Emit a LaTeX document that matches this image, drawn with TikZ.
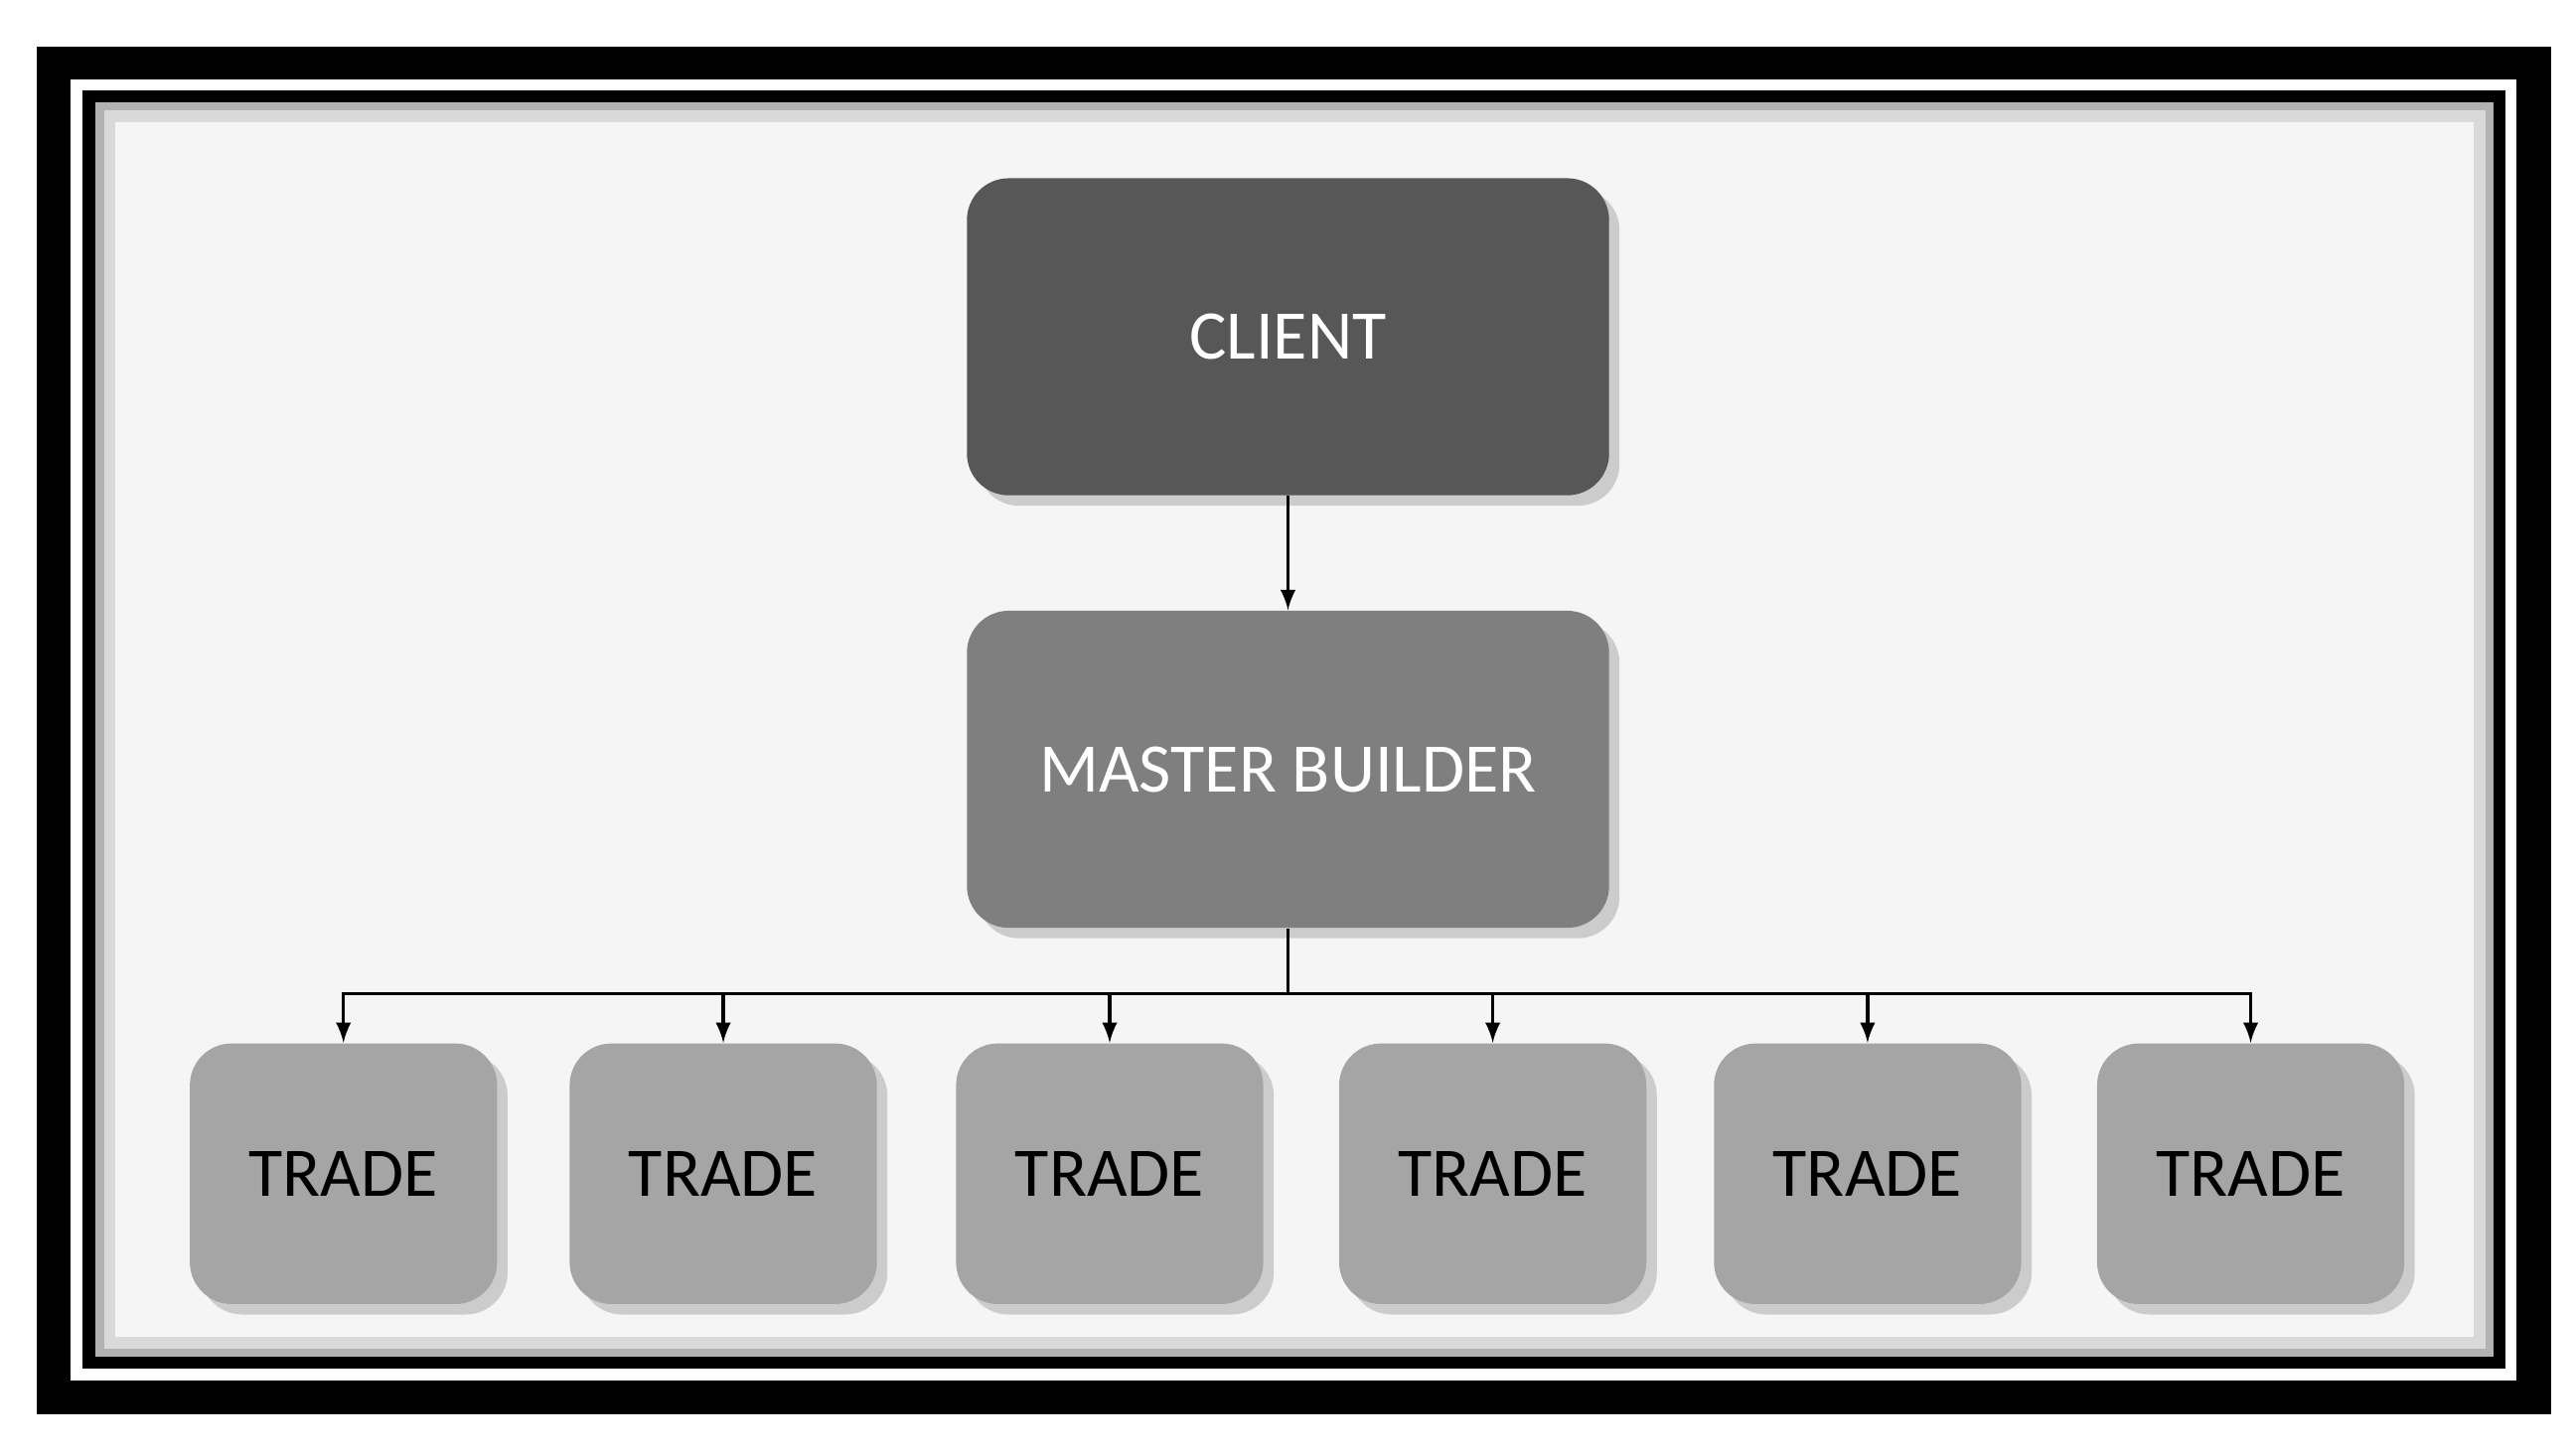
\documentclass[tikz,border=0pt]{standalone}
\usepackage{fontspec}
\setmainfont{Carlito}
\usetikzlibrary{shadows}
\definecolor{clientgray}{HTML}{575757}
\definecolor{mastergray}{HTML}{7F7F7F}
\definecolor{tradegray}{HTML}{A5A5A5}
\tikzset{
  box/.style={draw=none,rounded corners=12pt,inner sep=0pt,
    drop shadow={shadow xshift=3pt,shadow yshift=-3pt,opacity=0.35},
    font=\fontsize{20}{24}\selectfont},
  link/.style={-latex,line width=1pt}
}
\begin{document}
\begin{tikzpicture}[x=0.016667cm,y=-0.016667cm]
        \useasboundingbox (0,0) rectangle (1560,881);
        \fill[white] (0,0) rectangle (1560,881);
        % frame
        \fill[black] (22,28) rectangle (1545,857);
        \fill[white] (43,48) rectangle (1524,836);
        \fill[black] (50,55) rectangle (1517,829);
        \fill[gray!60] (58,62) rectangle (1510,822);
        \fill[gray!30] (63,67) rectangle (1505,817);
        \fill[white!96!black] (70,74) rectangle (1498,810);

        \node [box,fill=clientgray,text=white,minimum width=389\pgflinewidth,
               minimum width=6.48cm,minimum height=3.2cm](client)at(780,204){CLIENT};
        \node [box,fill=mastergray,text=white,minimum width=6.48cm,
               minimum height=3.2cm](master)at(780,466){MASTER BUILDER};
        \node [box,fill=tradegray,minimum width=3.1cm,minimum height=2.63cm](t1)at(208,711){TRADE};
        \node [box,fill=tradegray,minimum width=3.1cm,minimum height=2.63cm](t2)at(438,711){TRADE};
        \node [box,fill=tradegray,minimum width=3.1cm,minimum height=2.63cm](t3)at(672,711){TRADE};
        \node [box,fill=tradegray,minimum width=3.1cm,minimum height=2.63cm](t4)at(904,711){TRADE};
        \node [box,fill=tradegray,minimum width=3.1cm,minimum height=2.63cm](t5)at(1131,711){TRADE};
        \node [box,fill=tradegray,minimum width=3.1cm,minimum height=2.63cm](t6)at(1363,711){TRADE};
        \coordinate (bus)at(780,602);

        \draw [link] (client) -- (master);
        \draw [line width=1pt] (master) -- (bus);
        \foreach \t in {t1,t2,t3,t4,t5,t6}
            \draw [link] (bus) -| (\t);
    \end{tikzpicture}
\end{document}
